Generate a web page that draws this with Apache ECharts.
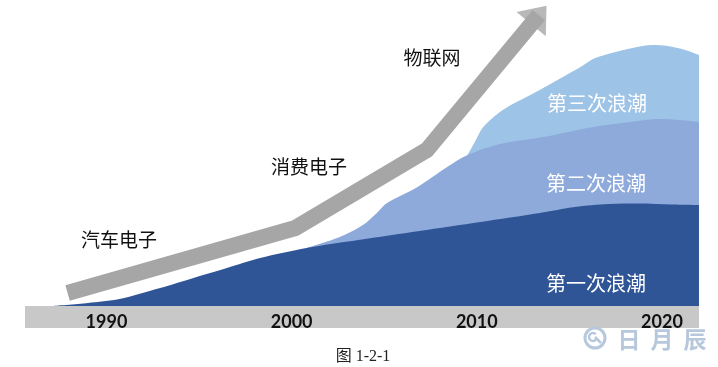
<!DOCTYPE html>
<html><head><meta charset="utf-8">
<script src="https://cdn.jsdelivr.net/npm/echarts@6/dist/echarts.min.js"></script>
<style>html,body{margin:0;padding:0;background:#fff}#c{width:718px;height:367px}</style>
</head><body><div id="c"></div>
<script>
// Axis ticks (years)
const tickYears = [1990, 2000, 2010, 2020];

// First wave (dark) – top boundary
const wave1Years  = [1987.1, 1989.0, 1990.7, 1992.9, 1994.7, 1996.5, 1998.3, 2000.8, 2003.6, 2006.9, 2010.2, 2013.4, 2015.3, 2017.1, 2018.8, 2020.5, 2022.0];
const wave1Values = [0, 3, 7, 18, 28, 38, 48, 58, 66, 75, 84, 93, 99, 102, 102.5, 101.5, 101];

// Second wave (medium) – cumulative top boundary
const wave2Years  = [2000.8, 2002.6, 2003.85, 2004.6, 2005.15, 2006.8, 2008.4, 2009.5, 2011.25, 2013.6, 2016.3, 2018.3, 2019.9, 2021.0, 2022.0];
const wave2Values = [58, 69, 81, 93, 103, 119, 139, 151, 162, 169, 179, 184, 187, 186, 184];

// Third wave (light) – cumulative top boundary
const wave3Years  = [2009.5, 2009.95, 2010.35, 2011.4, 2013.4, 2015.6, 2016.4, 2018.4, 2019.5, 2020.3, 2021.25, 2022.0];
const wave3Values = [151, 166, 179, 196, 216, 239, 248, 258, 261, 260, 256, 251];

// Trend arrow
const trendYears  = [1987.9, 2000.2, 2007.3, 2013.35];
const trendValues = [13, 78, 156, 291];

const eraLabels  = ['汽车电子', '消费电子', '物联网'];
const waveLabels = ['第一次浪潮', '第二次浪潮', '第三次浪潮'];
const caption = '图 1-2-1';
const watermark = ['日', '月', '辰'];

const zip = (a, b) => a.map((v, i) => [v, b[i]]);
const chart = echarts.init(document.getElementById('c'), null, {renderer: 'canvas'});

const areaSeries = (data, color) => ({
  type: 'line', data, smooth: 0.3, symbol: 'none', silent: true,
  lineStyle: {width: 0, color}, areaStyle: {color, opacity: 1}
});

const cjk = '"Noto Sans CJK SC", sans-serif';
const txt = (text, x, y, fill, size) => ({
  type: 'text', x, y, z: 100,
  style: {text, fill, font: size + 'px ' + cjk, align: 'center', verticalAlign: 'middle'}
});

const graphics = [
  txt(eraLabels[0], 119, 240, '#111111', 19),
  txt(eraLabels[1], 309, 167, '#111111', 19),
  txt(eraLabels[2], 432, 58, '#111111', 19),
  txt(waveLabels[2], 597, 103, '#ffffff', 20),
  txt(waveLabels[1], 596, 183, '#ffffff', 20),
  txt(waveLabels[0], 596, 283, '#ffffff', 20),
  {type: 'text', x: 363, y: 357, z: 100,
   style: {text: caption, fill: '#222', font: '16px "Liberation Serif", "Noto Sans CJK SC", serif', align: 'center', verticalAlign: 'middle'}},
  {type: 'circle', z: 100, shape: {cx: 595, cy: 338, r: 10}, style: {fill: 'none', stroke: '#b7c8dc', lineWidth: 3}},
  {type: 'arc', z: 100, shape: {cx: 593, cy: 337, r: 4, startAngle: 0.5, endAngle: 5.5}, style: {fill: 'none', stroke: '#b7c8dc', lineWidth: 2.5}},
  {type: 'line', z: 100, shape: {x1: 595, y1: 337, x2: 601, y2: 343}, style: {stroke: '#b7c8dc', lineWidth: 2.5}}
];
watermark.forEach((ch, i) => {
  graphics.push({type: 'text', x: 629 + i * 33, y: 339, z: 100,
    style: {text: ch, fill: '#b7c8dc', font: 'bold 23px ' + cjk, align: 'center', verticalAlign: 'middle'}});
});

const lastIdx = trendYears.length - 1;
chart.setOption({
  animation: false,
  grid: {left: 25, right: 19, top: 0, bottom: 61},
  xAxis: {
    type: 'value', min: 1985.6, max: 2022, offset: 11,
    axisLine: {show: true, onZero: false, lineStyle: {color: '#c8c8c8', width: 22, cap: 'butt'}},
    axisTick: {show: false}, splitLine: {show: false},
    axisLabel: {customValues: tickYears, formatter: v => String(v), margin: 5, verticalAlign: 'middle',
      fontFamily: 'Lato', fontWeight: 'bold', fontSize: 18, color: '#111111'}
  },
  yAxis: {type: 'value', min: 0, max: 306, show: false},
  series: [
    areaSeries(zip(wave3Years, wave3Values), '#9dc3e6'),
    areaSeries(zip(wave2Years, wave2Values), '#8eaadb'),
    areaSeries(zip(wave1Years, wave1Values), '#2f5597'),
    {type: 'line', data: zip(trendYears, trendValues), symbol: 'none', silent: true, z: 5,
     lineStyle: {color: '#a6a6a6', width: 16, join: 'miter', cap: 'butt'}},
    {type: 'scatter', data: [[trendYears[lastIdx], trendValues[lastIdx]]], symbol: 'triangle',
     symbolSize: [38, 24], silent: true, z: 6, itemStyle: {color: '#a6a6a6'}}
  ],
  graphic: graphics
});

// orient the arrowhead along the last segment
const p0 = chart.convertToPixel({gridIndex: 0}, [trendYears[lastIdx - 1], trendValues[lastIdx - 1]]);
const p1 = chart.convertToPixel({gridIndex: 0}, [trendYears[lastIdx], trendValues[lastIdx]]);
const ang = Math.atan2(p0[1] - p1[1], p1[0] - p0[0]) * 180 / Math.PI; // math angle
chart.setOption({series: [{}, {}, {}, {}, {symbolRotate: ang - 90}]});
</script></body></html>
